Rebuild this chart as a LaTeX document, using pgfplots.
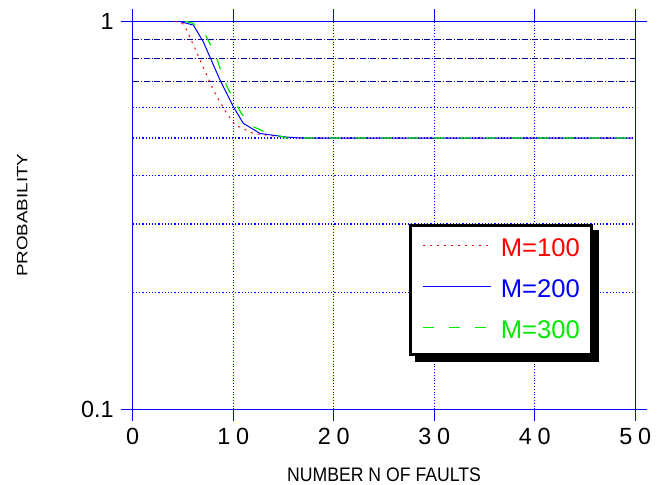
\documentclass[border=0pt]{standalone}
\usepackage{fontspec}
\setmainfont{Liberation Sans}
\newfontfamily\tickfont[LetterSpace=25]{Liberation Sans}
\newfontfamily\yfont{Liberation Sans}
\newfontfamily\xlabfont[FakeStretch=0.9]{Liberation Sans}
\newfontfamily\ylabfont[FakeStretch=1.25]{Liberation Sans}
\usepackage{pgfplots}
\pgfplotsset{compat=1.18}

\definecolor{cred}{RGB}{255,0,0}
\definecolor{cblue}{RGB}{0,0,255}
\definecolor{cgreen}{RGB}{0,235,0}

\begin{document}
\begin{tikzpicture}
  % fixed page size: 663x485 px at 0.5pt per px
  \useasboundingbox (0,0) rectangle (331.5pt,242.5pt);
  \begin{axis}[
      at={(66.35pt,37.85pt)}, anchor=south west,
      scale only axis,
      width=251.3pt, height=194pt,
      xmin=0, xmax=50,
      ymode=log, ymin=0.1, ymax=1,
      xtick={0,10,20,30,40,50},
      xticklabels={0,10,20,30,40,50},
      ytick={0.1,1},
      yticklabels={0.1,1},
      minor ytick={0.7,0.8,0.9},
      extra y ticks={0.2,0.3,0.4,0.5,0.6},
      extra y tick labels={,,,,},
      extra y tick style={grid=major, major tick length=0pt,
        major grid style={cblue, densely dotted, line width=0.8pt}},
      xmajorgrids,
      yminorgrids,
      major grid style={cblue, densely dotted, line width=0.6pt},
      minor grid style={cblue!60!black, densely dash dot, line width=0.4pt},
      minor tick length=0pt,
      major tick length=6pt,
      tick align=outside,
      axis line style={cblue, line width=0.6pt},
      tick style={cblue, line width=0.6pt},
      xticklabel style={font=\tickfont\fontsize{11.7}{13}\selectfont},
      yticklabel style={font=\yfont\fontsize{11.7}{13}\selectfont},
      xlabel={NUMBER N OF FAULTS},
      ylabel={PROBABILITY},
      xlabel style={font=\xlabfont\fontsize{9.8}{11}\selectfont,
        at={(axis description cs:0.5,-0.1848)}, anchor=base},
      ylabel style={font=\ylabfont\fontsize{7.5}{9}\selectfont,
        at={(axis description cs:-0.2095,0.5)}, anchor=base},
      legend style={name=leg, at={(0.5503,0.477)}, anchor=north west,
        draw=black, line width=1.3pt, fill=white,
        font=\fontsize{12.8}{14}\selectfont,
        inner xsep=6pt, inner ysep=6.5pt,
        row sep=10.1pt,
        nodes={inner sep=0pt},
        /tikz/every odd column/.append style={column sep=4.5pt}},
      legend cell align=left,
      legend image code/.code={\draw[#1] (0pt,1.8pt) -- (34pt,1.8pt);},
    ]
    \addplot[cred, line width=0.5pt, dash pattern=on 1pt off 2.5pt] coordinates {
      (4.2,1.0) (5.03,0.984) (5.37,0.95) (6.70,0.795) (8.02,0.665)
      (9.35,0.579) (10.18,0.541) (12.0,0.514) (15.3,0.501) (17,0.5) (49.7,0.5)
    };
    \addplot[cblue, line width=0.5pt] coordinates {
      (4.6,1.0) (6.03,0.978) (7.02,0.886) (8.68,0.706) (10.0,0.603)
      (11.0,0.546) (12.66,0.514) (15.3,0.503) (17,0.5) (49.7,0.5)
    };
    \addplot[cgreen, line width=0.6pt, dash pattern=on 5.5pt off 7.5pt] coordinates {
      (5.2,1.0) (6.03,0.988) (7.19,0.927) (7.96,0.847) (8.42,0.795)
      (8.85,0.734) (9.41,0.676) (10.08,0.627) (10.84,0.577) (12.0,0.535)
      (13.33,0.516) (14.65,0.506) (15.3,0.5) (49.7,0.5)
    };
    \legend{\textcolor{cred}{M=100},\textcolor{cblue}{M=200},\textcolor{cgreen}{M=300}}
  \end{axis}
  % legend shadow, right and bottom strips
  \fill[black] ([yshift=-3pt]leg.north east) rectangle ([xshift=3pt,yshift=-3pt]leg.south east);
  \fill[black] ([xshift=3pt]leg.south west) rectangle ([xshift=3pt,yshift=-3pt]leg.south east);
\end{tikzpicture}
\end{document}
